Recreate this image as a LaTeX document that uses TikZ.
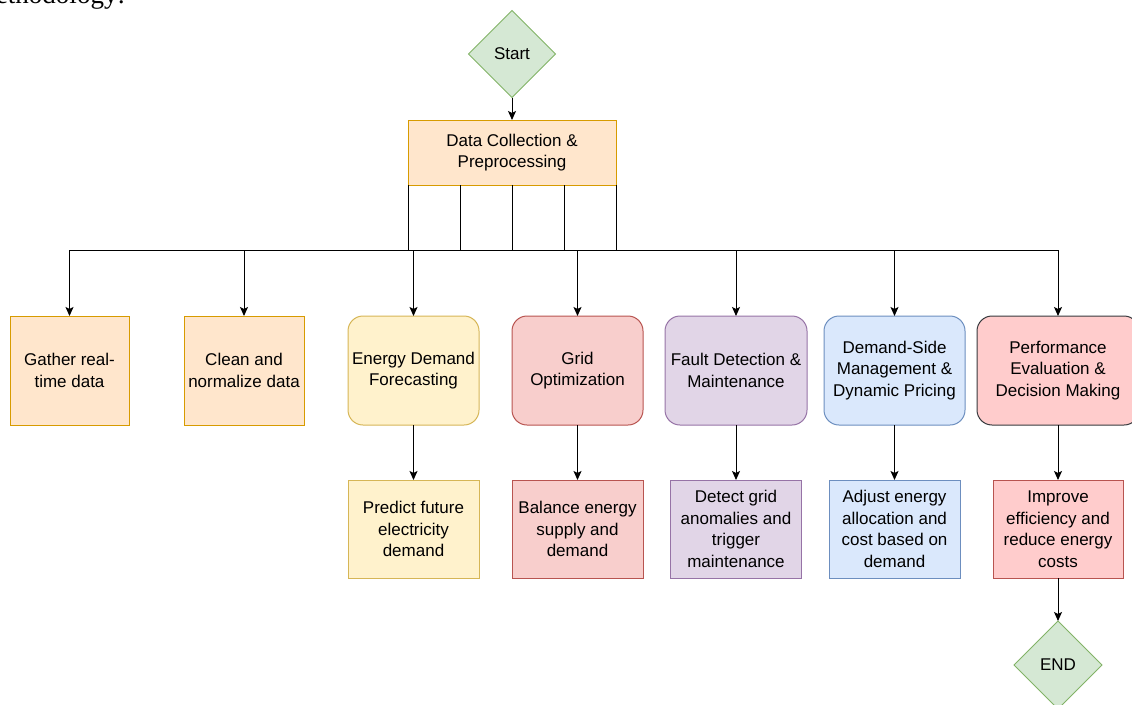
\documentclass[tikz,border=0pt]{standalone}
\usepackage{fontspec}
\setmainfont{Liberation Sans}
\newfontfamily\bodyserif{Liberation Serif}
\usepackage{xcolor}
\usepackage{tikz}
\usetikzlibrary{arrows.meta,positioning,calc,shapes.geometric}
\definecolor{green2}{RGB}{130,179,102}
\definecolor{lightgreen}{RGB}{213,232,212}
\definecolor{orange2}{RGB}{215,155,0}
\definecolor{lightorange}{RGB}{255,230,204}
\definecolor{yellow2}{RGB}{214,182,86}
\definecolor{lightyellow}{RGB}{255,242,204}
\definecolor{red2}{RGB}{184,84,80}
\definecolor{lightred}{RGB}{248,206,204}
\definecolor{purple2}{RGB}{150,115,166}
\definecolor{lightpurple}{RGB}{225,213,231}
\definecolor{blue2}{RGB}{108,142,191}
\definecolor{lightblue}{RGB}{218,232,252}
\definecolor{pink1}{RGB}{255,204,204}
\definecolor{gray2}{RGB}{54,57,61}
\tikzset{
  every node/.style={font=\fontsize{17}{21.5}\selectfont, inner sep=0pt, outer sep=0pt},
  basebox/.style={draw, line width=1pt, align=center, minimum height=109pt},
  stepbox/.style={basebox, minimum width=#1},
  roundbox/.style={basebox, rounded corners=15pt, minimum width=#1},
  resultbox/.style={basebox, minimum width=131pt, minimum height=98pt},
  terminal/.style={diamond, draw=green2, line width=1pt, fill=lightgreen,
    minimum width=87pt, minimum height=87pt, aspect=1},
  flow/.style={-{Stealth[length=9pt, width=8pt, inset=2pt]}, line width=1pt},
  feed/.style={line width=1pt}
}

\begin{document}
\begin{tikzpicture}[x=1pt, y=-1pt, node distance=55pt]
\useasboundingbox (0,0) rectangle (1132,704);

\node[anchor=base west, font=\bodyserif\fontsize{27}{30}\selectfont] (heading) at (-4,3) {ethodology:};

\node[terminal] (start) at (512,54) {Start};
\node[basebox, draw=orange2, fill=lightorange, minimum width=208pt, minimum height=65pt] (data) at (512,152.5) {Data Collection \&\\Preprocessing};

% first row
\node[stepbox=119pt, draw=orange2, fill=lightorange] (gather) at (69.5,370.5) {Gather real-\\time data};
\node[stepbox=120pt, draw=orange2, fill=lightorange] (clean) at (244,370.5) {Clean and\\normalize data};
\node[roundbox=131pt, draw=yellow2, fill=lightyellow] (forecast) at (413.5,370.5) {Energy Demand\\Forecasting};
\node[roundbox=131pt, draw=red2, fill=lightred] (grid) at (577.5,370.5) {Grid\\Optimization};
\node[roundbox=142pt, draw=purple2, fill=lightpurple] (fault) at (736,370.5) {Fault Detection \&\\Maintenance};
\node[roundbox=141pt, draw=blue2, fill=lightblue] (dsm) at (894.5,370.5) {Demand-Side\\Management \&\\Dynamic Pricing};
\node[roundbox=162pt, draw=gray2, fill=pink1] (perf) at (1058,370.5) {Performance\\Evaluation \&\\Decision Making};

% second row
\node[resultbox, draw=yellow2, fill=lightyellow, below=of forecast] (predict) {Predict future\\electricity\\demand};
\node[resultbox, draw=red2, fill=lightred, below=of grid] (balance) {Balance energy\\supply and\\demand};
\node[resultbox, draw=purple2, fill=lightpurple, below=of fault] (detect) {Detect grid\\anomalies and\\trigger\\maintenance};
\node[resultbox, draw=blue2, fill=lightblue, below=of dsm] (adjust) {Adjust energy\\allocation and\\cost based on\\demand};
\node[resultbox, draw=red2, fill=pink1, minimum width=130pt, below=of perf] (improve) {Improve\\efficiency and\\reduce energy\\costs};

\node[terminal, minimum width=88pt, minimum height=88pt] (end) at (1058,665) {END};

\coordinate (bus) at (0,250);

\draw[flow] (start) -- (data);
\foreach \f in {0,0.25,0.5,0.75,1} {
  \coordinate (tap) at ($(data.south west)!\f!(data.south east)$);
  \draw[feed] (tap) -- (tap |- bus);
}
\draw[feed] (bus -| gather) -- (bus -| perf);
\foreach \n in {gather,clean,forecast,grid,fault,dsm,perf}
  \draw[flow] (bus -| \n) -- (\n);

\draw[flow] (forecast) -- (predict);
\draw[flow] (grid) -- (balance);
\draw[flow] (fault) -- (detect);
\draw[flow] (dsm) -- (adjust);
\draw[flow] (perf) -- (improve);
\draw[flow] (improve) -- (end);
\end{tikzpicture}
\end{document}
